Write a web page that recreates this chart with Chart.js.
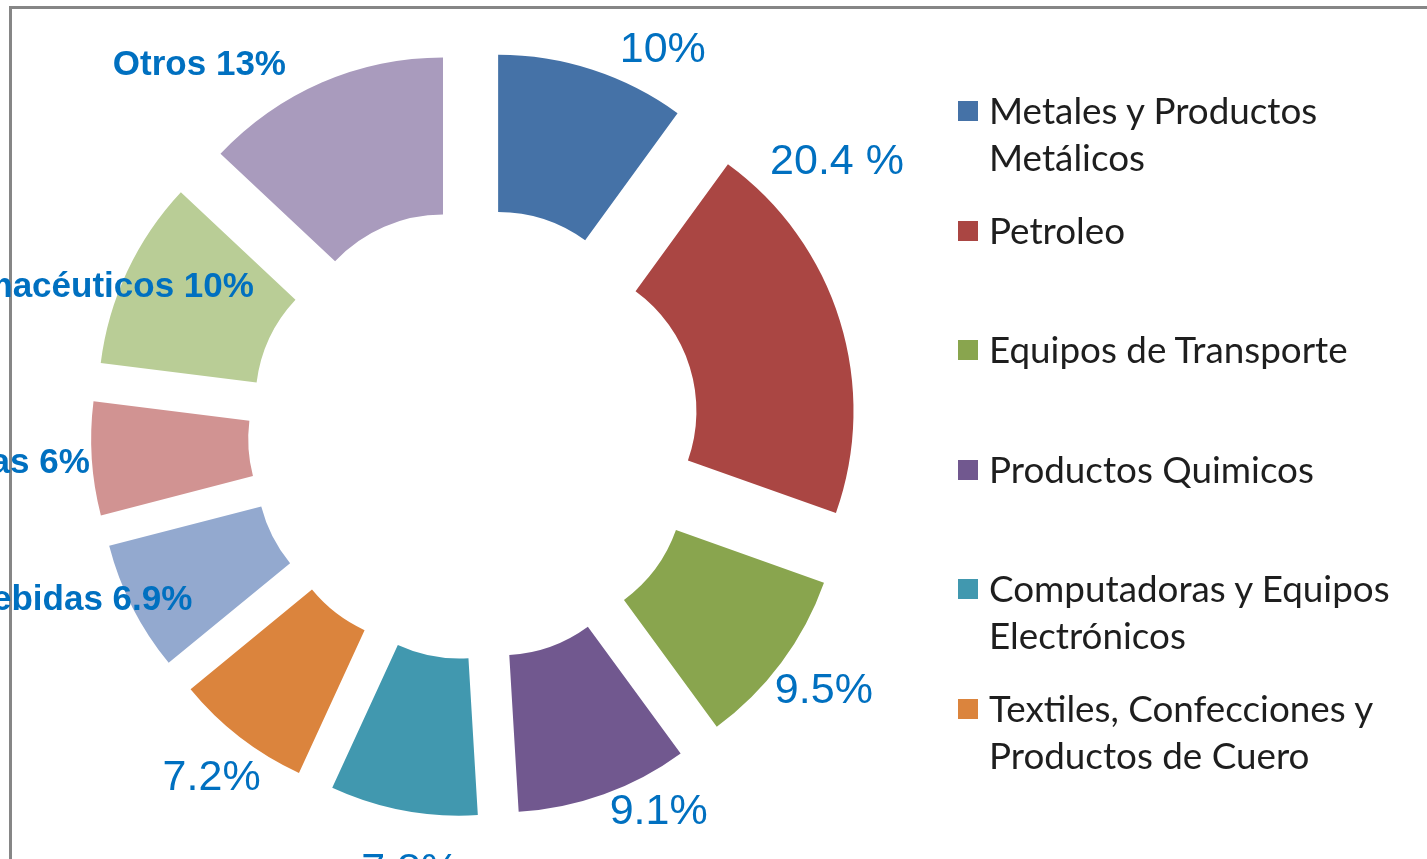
<!DOCTYPE html>
<html>
<head>
<meta charset="utf-8">
<script src="https://cdn.jsdelivr.net/npm/chart.js@4.4.1/dist/chart.umd.min.js"></script>
<style>
  html, body { margin: 0; padding: 0; background: #fff; overflow: hidden; }
  #wrap { position: relative; width: 1427px; height: 859px; overflow: hidden; }
  #frame { position: absolute; left: 9px; top: 6px; right: -20px; bottom: -20px;
           border-top: 3px solid #868686; border-left: 3px solid #868686; }
  #chart { position: absolute; left: 0; top: 0; }
  #legend { position: absolute; left: 958px; top: 87px; font-family: Lato, sans-serif;
            font-size: 36.8px; color: #1e1e1e; }
  .item { position: relative; height: 119.5px; padding-left: 31px; width: 410px; line-height: 47px; }
  .box { position: absolute; left: 0; top: 14px; width: 20px; height: 20px; }
</style>
</head>
<body>
<div id="wrap">
  <div id="frame"></div>
  <canvas id="chart" width="1427" height="859"></canvas>
  <div id="legend"></div>
</div>
<script>
const categories = [
  'Metales y Productos Metálicos',
  'Petroleo',
  'Equipos de Transporte',
  'Productos Quimicos',
  'Computadoras y Equipos Electrónicos',
  'Textiles, Confecciones y Productos de Cuero',
  'Alimentos y Bebidas',
  'Maquinarias',
  'Farmacéuticos',
  'Otros'
];
const shares = [10, 20.4, 9.5, 9.1, 7.8, 7.2, 6.9, 6, 10, 13];
const sliceLabels = ['10%', '20.4 %', '9.5%', '9.1%', '7.8%', '7.2%',
  'Alimentos y Bebidas 6.9%', 'Maquinarias 6%', 'Farmacéuticos 10%', 'Otros 13%'];
const labelBold = [false, false, false, false, false, false, true, true, true, true];
const colors = ['#4572a7', '#aa4643', '#89a54e', '#71588f', '#4198af',
  '#db843d', '#93a9cf', '#d19392', '#b9cd96', '#a99bbd'];

// the workbook only shows the first six legend entries
const legendCount = 6;
// labels were dragged by hand in the original, nudge them off the slice anchor
const labelNudge = [[22, -3], [-86, -154], [-20, 18], [0, 2], [10, 44],
  [31, 27], [75, -15], [15, 4], [142, 23], [-29, -2]];

// exploded slices: plain translate along the bisector, no radius growth
Chart.ArcElement.prototype.draw = function (ctx) {
  const { x, y, startAngle, endAngle, innerRadius, outerRadius, options } = this;
  const mid = (startAngle + endAngle) / 2;
  const d = options.offset || 0;
  ctx.save();
  ctx.translate(Math.cos(mid) * d, Math.sin(mid) * d);
  ctx.beginPath();
  ctx.arc(x, y, outerRadius, startAngle, endAngle);
  ctx.arc(x, y, innerRadius, endAngle, startAngle, true);
  ctx.closePath();
  ctx.fillStyle = options.backgroundColor;
  ctx.fill();
  ctx.restore();
};

const sliceLabelPlugin = {
  id: 'sliceLabels',
  afterDatasetsDraw(chart) {
    const ctx = chart.ctx;
    chart.getDatasetMeta(0).data.forEach((arc, i) => {
      const mid = (arc.startAngle + arc.endAngle) / 2;
      const r = arc.outerRadius + arc.options.offset + 17;
      const cos = Math.cos(mid);
      const px = arc.x + cos * r + labelNudge[i][0];
      const py = arc.y + Math.sin(mid) * r + labelNudge[i][1];
      ctx.save();
      ctx.textAlign = cos > 0.25 ? 'left' : (cos < -0.25 ? 'right' : 'center');
      ctx.textBaseline = 'middle';
      ctx.fillStyle = '#0070c0';
      ctx.font = labelBold[i] ? 'bold 35px "Liberation Sans"' : '43px "Liberation Sans"';
      ctx.fillText(sliceLabels[i], px, py);
      ctx.restore();
    });
  }
};

new Chart(document.getElementById('chart'), {
  type: 'doughnut',
  data: {
    labels: categories,
    datasets: [{
      data: shares,
      backgroundColor: colors,
      borderWidth: 0,
      offset: 78,
      hoverOffset: 0,
      radius: 305,
      cutout: '48.5%'
    }]
  },
  options: {
    responsive: false,
    animation: false,
    events: [],
    layout: { padding: { left: 0, right: 479, top: 9, bottom: 0 } },
    plugins: {
      legend: { display: false },
      tooltip: { enabled: false }
    }
  },
  plugins: [sliceLabelPlugin]
});

// legend built as html so long names can wrap like the original
const legend = document.getElementById('legend');
categories.slice(0, legendCount).forEach((name, i) => {
  const item = document.createElement('div');
  item.className = 'item';
  const box = document.createElement('span');
  box.className = 'box';
  box.style.background = colors[i];
  item.appendChild(box);
  item.appendChild(document.createTextNode(name));
  legend.appendChild(item);
});
</script>
</body>
</html>
